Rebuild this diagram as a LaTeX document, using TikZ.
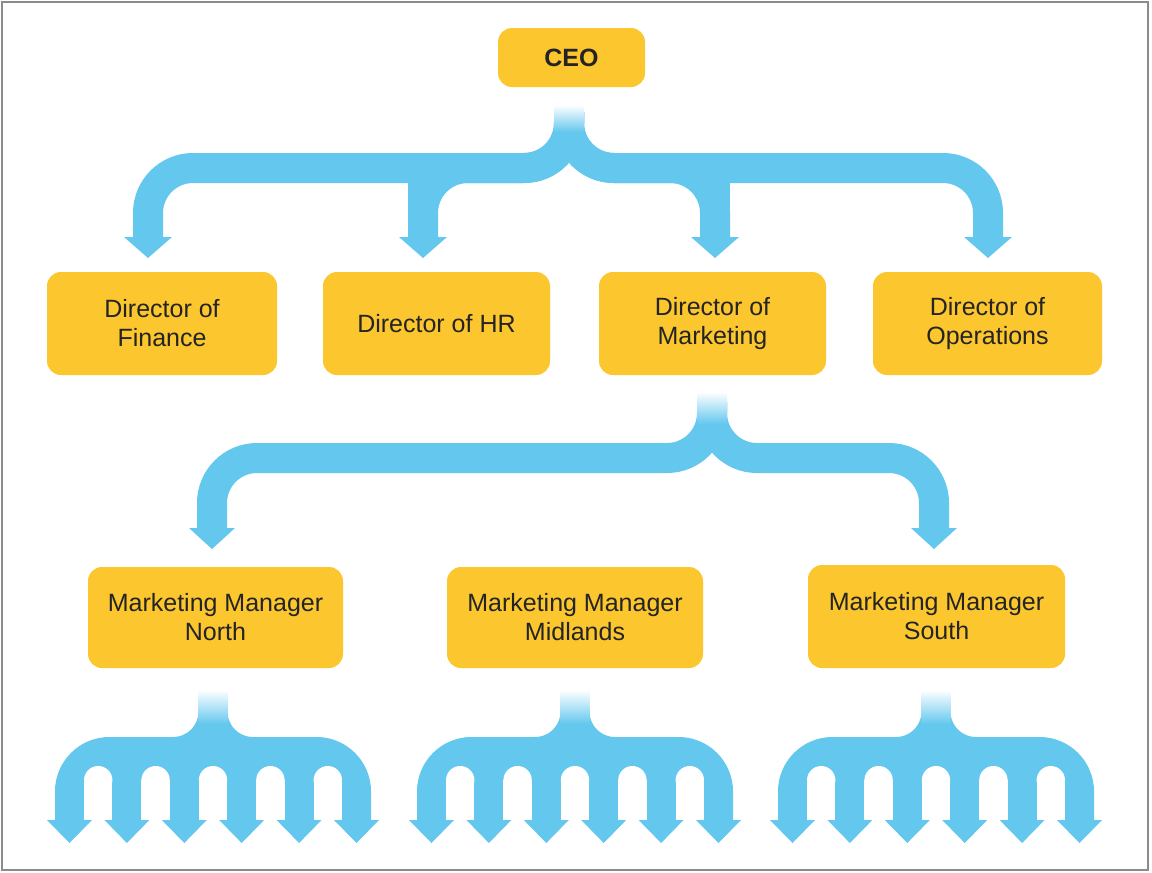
\documentclass[tikz,border=0pt]{standalone}
\usepackage{fontspec}
\setmainfont{Liberation Sans}
\definecolor{flow}{RGB}{100,199,238}
\definecolor{boxy}{RGB}{252,198,46}
\definecolor{txt}{RGB}{36,36,36}
\definecolor{frame}{RGB}{140,140,140}
\newcommand\flowhead[4]{% x, base y, half width, height
  \fill[flow] ({#1-#3},#2) -- ({#1+#3},#2) -- (#1,{#2+#4}) -- cycle;}
\newcommand\flowfan[1]{%
  \pgfmathsetmacro\fc{#1}%
  \pgfmathsetmacro\fl{\fc-143.5}%
  \pgfmathsetmacro\fr{\fc+143.5}%
  \draw[fanline] (\fc,700) -- (\fc,751.5) -- (\fl,751.5) -- (\fl,821);
  \draw[fanline] (\fc,700) -- (\fc,751.5) -- (\fr,751.5) -- (\fr,821);
  \fill[flow] ({\fl+14.5},751.5) rectangle ({\fr-14.5},821);
  \fill[flow] ({\fc-14.5},700) rectangle ({\fc+14.5},760);
  \foreach \k in {0,...,4} {%
    \pgfmathsetmacro\ga{\fl+57.4*\k+14.5}%
    \pgfmathsetmacro\gb{\fl+57.4*(\k+1)-14.5}%
    \fill[white] (\ga,780.2) rectangle (\gb,823);
    \fill[white] ({(\ga+\gb)/2},780.2) circle ({(\gb-\ga)/2});
  }
  \shade[top color=white, bottom color=flow] ({\fc-14.5},690) rectangle ({\fc+14.5},724);
  \foreach \k in {0,...,5} {%
    \pgfmathsetmacro\hx{\fl+57.4*\k}%
    \flowhead{\hx}{820}{22.5}{23}
  }
}
\begin{document}
\begin{tikzpicture}[x=1pt,y=-1pt,
  box/.style={fill=boxy, rounded corners=14pt, align=center, text=txt,
    font=\fontsize{25}{29}\selectfont, inner sep=0pt},
  flowline/.style={draw=flow, line width=30pt, rounded corners=45pt},
  flowsq/.style={draw=flow, line width=30pt},
  fanline/.style={draw=flow, line width=29pt, rounded corners=40pt}]
\useasboundingbox (0,0) rectangle (1152,873);
\fill[white] (0,0) rectangle (1152,873);
\draw[frame, line width=2.5pt] (2,2) rectangle (1148,870);

% boxes
\node[box, minimum width=147pt, minimum height=59pt, font=\fontsize{25}{29}\selectfont\bfseries] (ceo) at (571.5,57.5) {CEO};
\node[box, minimum width=230pt, minimum height=103pt] (fin) at (162,323.5) {Director of\\Finance};
\node[box, minimum width=227pt, minimum height=103pt] (hr) at (436.5,323.5) {Director of HR};
\node[box, minimum width=227pt, minimum height=103pt] (mkt) at (712.5,323.5) {Director of\\Marketing};
\node[box, minimum width=229pt, minimum height=103pt] (ops) at (987.5,323.5) {Director of\\Operations};
\node[box, minimum width=255pt, minimum height=101pt] (north) at (215.5,617.5) {Marketing Manager\\North};
\node[box, minimum width=256pt, minimum height=101pt] (mid) at (575,617.5) {Marketing Manager\\Midlands};
\node[box, minimum width=257pt, minimum height=103pt] (south) at (936.5,616.5) {Marketing Manager\\South};

% level 1 flow
\coordinate (s1) at (569,112);
\coordinate (j1) at (569,168);
\foreach \xb in {148,423,715,988} {
  \draw[flowline] (s1) -- (j1) -- (\xb,168) -- (\xb,238);
}
\draw[flowsq] (423,168) -- (423,238);
\draw[flowsq] (715,168) -- (715,238);
\shade[top color=white, bottom color=flow] (554,105) rectangle (584,132);
\foreach \xb in {148,423,715,988} { \flowhead{\xb}{237}{24}{21} }

% level 2 flow
\coordinate (s2) at (712,402);
\coordinate (j2) at (712,458);
\foreach \xb in {212,934} {
  \draw[flowline] (s2) -- (j2) -- (\xb,458) -- (\xb,529);
}
\shade[top color=white, bottom color=flow] (697,392) rectangle (727,424);
\foreach \xb in {212,934} { \flowhead{\xb}{528}{23}{21} }

% level 3 fans
\flowfan{213}
\flowfan{575}
\flowfan{936}
\end{tikzpicture}
\end{document}
